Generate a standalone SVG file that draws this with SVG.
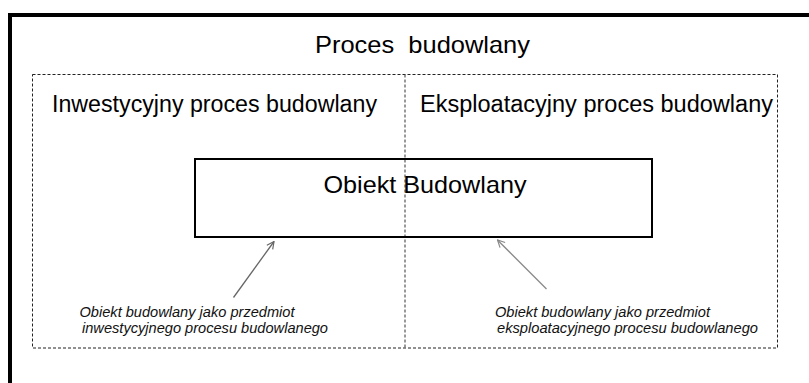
<svg xmlns="http://www.w3.org/2000/svg" width="809" height="383" viewBox="0 0 809 383">
<style>
.t{font-family:"Liberation Sans",Arial,sans-serif;fill:#000}
.cap{font-family:"Liberation Sans",Arial,sans-serif;font-style:italic;font-size:14.5px;fill:#111}
.dash{fill:none;stroke:#222;stroke-width:1;stroke-dasharray:3 2}
</style>
<defs>
<marker id="ah" viewBox="0 0 10 10" refX="9" refY="5" markerWidth="9" markerHeight="9" markerUnits="userSpaceOnUse" orient="auto"><path d="M1,1 L9,5 L1,9" fill="none" stroke="#666" stroke-width="1.3"/></marker>
<marker id="ah2" viewBox="0 0 10 10" refX="9" refY="5" markerWidth="9" markerHeight="9" markerUnits="userSpaceOnUse" orient="auto"><path d="M1,1 L9,5 L1,9" fill="none" stroke="#888" stroke-width="1.3"/></marker>
</defs>
<rect width="809" height="383" fill="#fff"/>
<g id="outer">
<rect x="10" y="15" width="820" height="400" fill="none" stroke="#000" stroke-width="4"/>
<text class="t" x="315" y="53" font-size="24" textLength="215" lengthAdjust="spacingAndGlyphs" xml:space="preserve">Proces  budowlany</text>
</g>
<g id="zones">
<rect class="dash" x="32.5" y="74.5" width="745" height="273.5"/>
<line x1="405" y1="74.5" x2="405" y2="348" stroke="#555" stroke-width="1.2" stroke-dasharray="3 2"/>
<text class="t" x="52" y="111.5" font-size="23" textLength="325" lengthAdjust="spacingAndGlyphs">Inwestycyjny proces budowlany</text>
<text class="t" x="420" y="111.5" font-size="23" textLength="353" lengthAdjust="spacingAndGlyphs">Eksploatacyjny proces budowlany</text>
</g>
<g id="obiekt">
<rect x="195" y="159" width="457" height="78" fill="none" stroke="#000" stroke-width="2"/>
<text class="t" x="323.5" y="192.5" font-size="24" textLength="203" lengthAdjust="spacingAndGlyphs">Obiekt Budowlany</text>
</g>
<g id="connectors">
<line x1="233.5" y1="297.5" x2="274" y2="241.5" stroke="#666" stroke-width="1.3" marker-end="url(#ah)"/>
<line x1="546.5" y1="289" x2="497.5" y2="240" stroke="#888" stroke-width="1.3" marker-end="url(#ah2)"/>
</g>
<g id="caption-left">
<text class="cap" x="79.5" y="316.5" textLength="215" lengthAdjust="spacingAndGlyphs">Obiekt budowlany jako przedmiot</text>
<text class="cap" x="82" y="333" textLength="246" lengthAdjust="spacingAndGlyphs">inwestycyjnego procesu budowlanego</text>
</g>
<g id="caption-right">
<text class="cap" x="495" y="316.5" textLength="215" lengthAdjust="spacingAndGlyphs">Obiekt budowlany jako przedmiot</text>
<text class="cap" x="497" y="333" textLength="261" lengthAdjust="spacingAndGlyphs">eksploatacyjnego procesu budowlanego</text>
</g>
</svg>
